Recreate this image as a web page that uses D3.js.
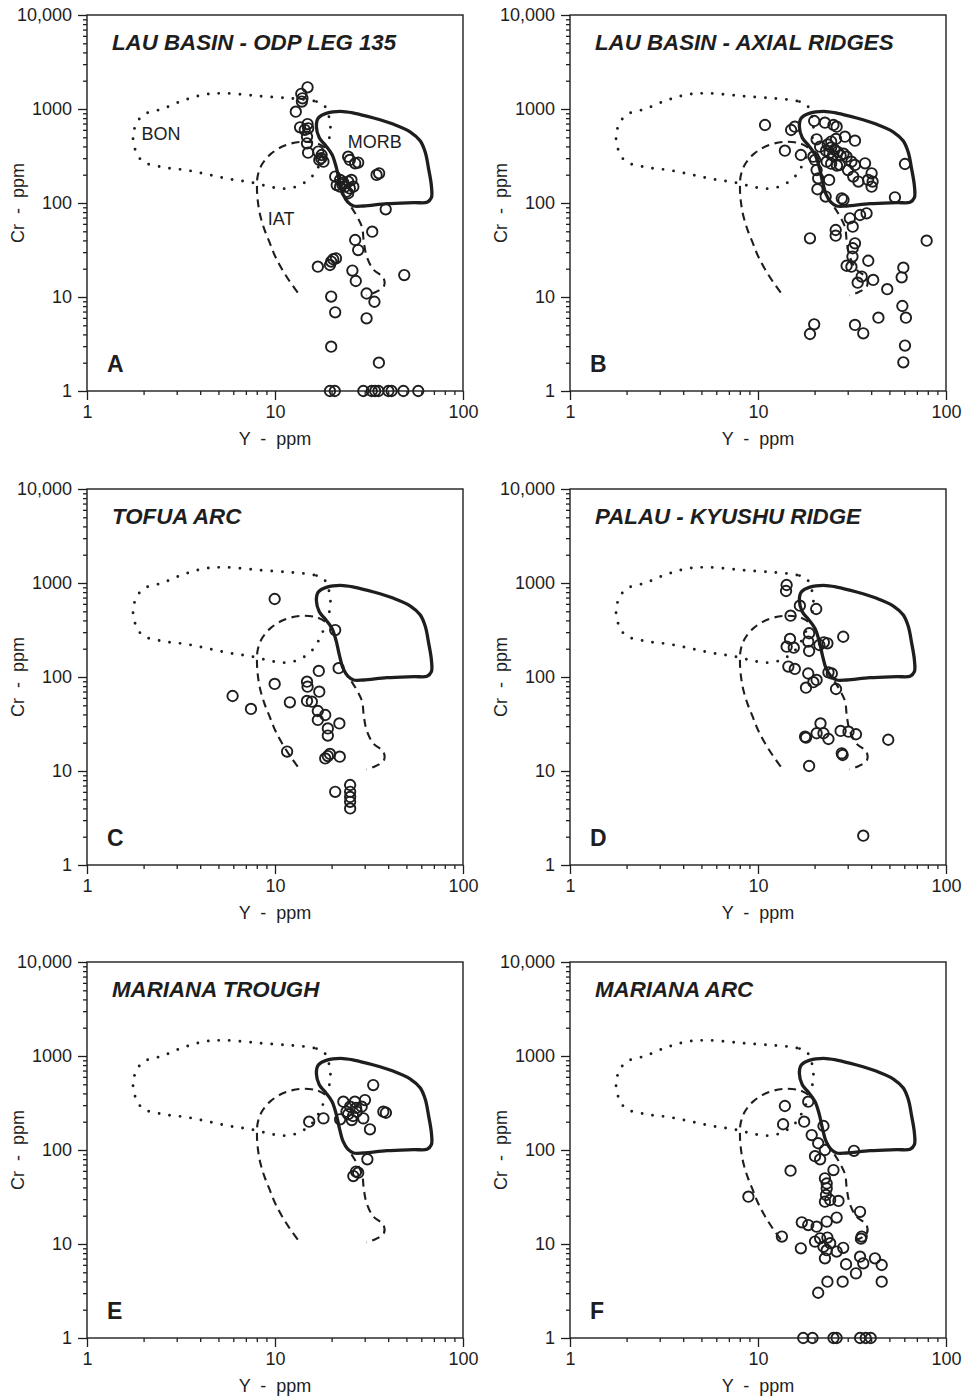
<!DOCTYPE html>
<html>
<head>
<meta charset="utf-8">
<script src="https://cdn.jsdelivr.net/npm/d3@7"></script>
<style>
  body { margin: 0; background: #fff; }
  svg { display: block; }
  text { font-family: "Liberation Sans", Arial, Helvetica, sans-serif; fill: #1e1e1e; }
</style>
</head>
<body>
<svg id="chart" width="964" height="1397"></svg>
<script>
// samples, [Y ppm, Cr ppm]
const lauOdp135 = [
  [14.9,1700],[13.8,1450],[14.0,1300],[13.9,1200],[12.9,937],[13.6,638],[14.9,692],[15.0,623],
  [14.8,508],[14.8,431],[15.0,343],[14.4,600],[17.0,352],[17.7,324],[17.2,287],[18.1,275],[17.6,300],
  [24.5,311],[25.0,287],[26.7,264],[27.7,269],[34.7,199],[35.8,207],
  [20.9,191],[22.2,176],[23.1,165],[23.6,149],[24.5,169],[25.5,176],[25.0,143],[26.1,149],
  [24.0,132],[24.5,127],[22.2,149],[21.3,155],[22.8,158],
  [38.8,85.6],[32.9,49.5],[26.7,40.4],[27.7,31.6],[16.9,21.0],[19.9,23.8],[20.4,25.2],[21.1,25.8],
  [19.6,21.9],[25.8,19.1],[26.9,14.8],[48.7,17.1],[30.7,10.9],[33.8,8.9],[30.7,5.93],[19.9,10.1],
  [20.9,6.87],[19.9,2.96],[35.7,2.0],
  [19.6,1],[20.8,1],[29.5,1],[32.7,1],[34.1,1],[35.5,1],[40.1,1],[41.7,1],[48.2,1],[57.8,1]
];
const lauAxial = [
  [10.9,676],[15.0,598],[15.7,649],[13.9,360],[16.9,324],[19.9,745],[22.7,716],[25.2,676],[26.2,649],
  [20.5,476],[21.4,397],[29.0,508],[32.8,460],
  [23.5,420],[24.5,390],[25.5,370],[24.0,340],[25.0,320],[26.5,350],[27.5,320],[28.5,335],[24.5,450],
  [26.0,480],[23.0,360],
  [19.7,311],[20.1,287],[23.2,275],[24.5,262],[26.3,250],[27.2,255],[29.6,311],[31.4,275],[32.8,254],
  [30.1,224],[32.1,191],[34.2,169],[37.1,264],[40.2,207],[40.7,169],[40.2,149],[38.5,176],
  [20.5,224],[20.9,183],[23.9,176],[20.7,140],[22.9,117],[27.9,112],[28.5,108],[53.5,115],[60.5,260],
  [30.8,68.7],[31.9,56],[34.9,74.5],[37.8,77.6],[18.9,42.1],[25.9,51.6],[25.9,44.9],[32.8,37.2],
  [31.9,33],[31.8,26.9],[29.6,21.5],[31.4,21],[38.6,24.3],[35.6,16.5],[33.9,14.2],[41.0,15.2],
  [48.7,12.1],[78.9,39.7],[59.3,20.5],[58.1,16.2],[58.6,8.02],[61.2,6.03],[60.5,3.04],[59.3,2.02],
  [43.7,6.03],[32.8,5.04],[36.3,4.11],[19.9,5.12],[18.9,4.04]
];
const tofuaArc = [
  [9.96,676],[20.9,316],[21.8,124],[17.1,116],[9.96,84.3],[14.8,89.1],[14.9,78.9],[17.2,69.8],
  [5.95,62.8],[7.45,45.7],[12.0,53.8],[14.8,55.6],[15.7,54.7],[16.9,43.5],[18.5,39.4],[16.9,34.9],
  [22.0,32.1],[19.1,28.4],[19.1,23.8],[11.6,16.1],[19.1,14.4],[19.6,15.2],[22.1,14.2],[18.5,13.6],
  [20.9,6.0],[25.1,7.1],[25.1,6.0],[25.1,5.3],[25.1,4.7],[25.1,4.0]
];
const palauKyushu = [
  [14.2,952],[14.1,822],[16.7,574],[20.4,529],[14.9,449],[14.8,254],[14.2,210],[15.5,205],[18.7,292],
  [18.5,238],[18.7,189],[21.2,219],[22.4,234],[23.4,228],[28.4,268],[14.5,129],[15.7,122],[18.5,109],
  [20.5,93],[19.7,88],[18.0,77],[23.7,112],[24.7,109],[26.0,74.5],[21.5,32.1],[18.0,22.6],[17.8,23.2],
  [20.5,25.2],[22.3,25.2],[23.7,21.9],[27.5,26.7],[30.3,26.2],[33.2,24.6],[49.3,21.5],[27.9,15.4],
  [28.2,14.8],[18.7,11.3],[36.3,2.05]
];
const marianaTrough = [
  [33.3,491],[30.1,340],[23.1,327],[26.6,327],[28.9,289],[25.1,289],[24.0,256],[27.2,256],[29.5,217],
  [25.6,208],[22.2,212],[18.1,217],[15.2,200],[37.7,256],[38.9,249],[32.0,166],[31.0,79.6],[27.0,58.9],
  [26.1,52.8],[27.7,57.4],[24.5,240],[26.0,230],[27.0,280]
];
const marianaArc = [
  [13.9,294],[18.5,327],[13.6,188],[17.6,200],[22.3,180],[19.3,144],[20.9,118],[22.7,100],[32.4,98],
  [20.1,86],[21.4,79.6],[25.2,61.2],[14.9,60.3],[22.7,50],[23.2,44],[23.2,39.1],[23.0,33.2],[22.7,28.2],
  [24.2,29.4],[26.8,28.7],[34.9,22],[8.89,31.9],[13.4,12],[17.1,17],[18.5,15.9],[20.5,15.3],[23.2,17.3],
  [26.2,19.1],[16.9,9.0],[20.1,10.6],[21.4,11.5],[23.4,11.7],[24.2,10.2],[22.3,9.35],[23.2,8.6],
  [26.2,8.3],[28.4,9.1],[22.7,7.04],[35.6,12],[35.3,11.4],[29.4,6.09],[34.9,7.33],[36.3,6.23],
  [41.9,7.04],[45.5,5.98],[33.2,4.87],[45.5,3.97],[28.2,3.97],[23.4,3.97],[20.9,3.03],
  [17.4,1],[19.5,1],[25.2,1],[26.2,1],[34.9,1],[37.4,1],[39.8,1]
];

// field outlines, same [Y, Cr] space
const morbField = [
  [16.6,650],[17.0,802],[18.9,905],[22.3,944],[26.2,906],[33.5,802],[42.8,687],[52.5,569],[59.3,457],
  [63.1,343],[65.7,228],[67.9,152],[67.9,114],[64.4,102],[54.7,101],[39.4,98.4],[29.6,92.9],[26.2,92.9],
  [24.4,102],[23.0,124],[22.0,171],[21.2,238],[20.1,329],[18.5,414],[17.2,495]
];
const bonField = [
  [18.2,1103],[16.1,1217],[12.1,1298],[8.19,1374],[5.44,1469],[4.18,1420],[3.27,1237],[2.54,1009],
  [1.96,843],[1.76,537],[1.85,327],[2.03,269],[2.61,238],[3.40,223],[4.44,200],[5.78,179],[7.55,165],
  [9.84,146],[11.1,142],[12.8,148],[14.5,167],[16.1,202],[17.2,252],[18.2,321],[19.3,410],[19.5,537],
  [19.7,687]
];
const iatLeft = [
  [18.5,388],[16.7,431],[13.6,446],[11.1,404],[9.44,329],[8.53,258],[8.09,194],[8.02,140],[8.12,101],
  [8.36,72.7],[8.78,52.5],[9.37,37.8],[10.0,27.3],[10.9,19.7],[12.1,14.2],[13.6,10.3]
];
const iatRight = [
  [25.5,90],[28.9,56.9],[29.7,37.8],[30.7,27.3],[33.3,19.7],[37.7,16.0],[38.0,13.1],[34.7,11.4],[30.7,10.4]
];
const fieldLabels = [["BON",1.95,468],["MORB",24.4,385],["IAT",9.15,58.3]];

const panelTitles = ["LAU BASIN - ODP LEG 135","LAU BASIN - AXIAL RIDGES","TOFUA ARC",
  "PALAU - KYUSHU RIDGE","MARIANA TROUGH","MARIANA ARC"];
const panelLetters = ["A","B","C","D","E","F"];
const panelData = [lauOdp135, lauAxial, tofuaArc, palauKyushu, marianaTrough, marianaArc];

const xMajor = [1,10,100];
const xMinor = [2,3,4,5,6,7,8,9,20,30,40,50,60,70,80,90];
const yMajor = [1,10,100,1000,10000];
const yMinor = [1,10,100,1000].flatMap(d => [2,3,4,5,6,7,8,9].map(k => k * d));

const ink = "#1e1e1e";
const size = 376;
const lefts = [87, 570];
const tops = [15, 489, 962];

const svg = d3.select("#chart");

const x = d3.scaleLog().domain([1, 100]).range([0, size]);
const y = d3.scaleLog().domain([1, 10000]).range([size, 0]);
const line = d3.line().x(d => x(d[0])).y(d => y(d[1]));
const yFmt = d => d === 10000 ? "10,000" : String(d);

panelData.forEach((pts, i) => {
  const g = svg.append("g")
    .attr("transform", `translate(${lefts[i % 2]},${tops[Math.floor(i / 2)]})`);

  // axes: minor then major ticks
  const xAxisG = g.append("g").attr("transform", `translate(0,${size})`);
  xAxisG.append("g").call(d3.axisBottom(x).tickValues(xMinor).tickSize(4).tickFormat(""));
  xAxisG.append("g").call(d3.axisBottom(x).tickValues(xMajor).tickSize(9).tickPadding(5).tickFormat(d3.format("d")));
  const yAxisG = g.append("g");
  yAxisG.append("g").call(d3.axisLeft(y).tickValues(yMinor).tickSize(4).tickFormat(""));
  yAxisG.append("g").call(d3.axisLeft(y).tickValues(yMajor).tickSize(9).tickPadding(6).tickFormat(yFmt));
  g.selectAll(".domain").remove();
  g.selectAll(".tick line").attr("stroke", ink).attr("stroke-width", 1.3);
  g.selectAll(".tick text").attr("font-size", 18).attr("fill", ink)
    .style("font-family", "'Liberation Sans', Arial, sans-serif");

  g.append("rect")
    .attr("width", size).attr("height", size)
    .attr("fill", "none").attr("stroke", ink).attr("stroke-width", 1.4);

  // fields
  g.append("path").datum(bonField)
    .attr("d", line.curve(d3.curveCatmullRomClosed.alpha(0.5)))
    .attr("fill", "none").attr("stroke", ink).attr("stroke-width", 2.9)
    .attr("stroke-linecap", "round").attr("stroke-dasharray", "0 10.6");
  g.append("path").datum(morbField)
    .attr("d", line.curve(d3.curveCatmullRomClosed.alpha(0.5)))
    .attr("fill", "none").attr("stroke", ink).attr("stroke-width", 3.3)
    .attr("stroke-linejoin", "round");
  [iatLeft, iatRight].forEach(seg => {
    g.append("path").datum(seg)
      .attr("d", line.curve(d3.curveCatmullRom.alpha(0.5)))
      .attr("fill", "none").attr("stroke", ink).attr("stroke-width", 2.1)
      .attr("stroke-dasharray", "8 5.5");
  });

  if (i === 0) {
    g.selectAll(".field-label").data(fieldLabels).join("text")
      .attr("class", "field-label")
      .attr("x", d => x(d[1])).attr("y", d => y(d[2]))
      .attr("font-size", 18)
      .text(d => d[0]);
  }

  g.selectAll(".sample").data(pts).join("circle")
    .attr("class", "sample")
    .attr("cx", d => x(d[0])).attr("cy", d => y(d[1]))
    .attr("r", 5.2)
    .attr("fill", "none").attr("stroke", ink).attr("stroke-width", 1.9);

  g.append("text")
    .attr("x", 25).attr("y", 35)
    .attr("font-size", 22.3).attr("font-weight", "bold").attr("font-style", "italic")
    .text(panelTitles[i]);

  g.append("text")
    .attr("x", 20).attr("y", size - 19)
    .attr("font-size", 23).attr("font-weight", "bold")
    .text(panelLetters[i]);

  g.append("text")
    .attr("x", size / 2).attr("y", size + 54)
    .attr("text-anchor", "middle").attr("font-size", 18)
    .attr("xml:space", "preserve")
    .text("Y  -  ppm");

  g.append("text")
    .attr("transform", `translate(-63,${size / 2}) rotate(-90)`)
    .attr("text-anchor", "middle").attr("font-size", 18)
    .attr("xml:space", "preserve")
    .text("Cr  -  ppm");
});
</script>
</body>
</html>
